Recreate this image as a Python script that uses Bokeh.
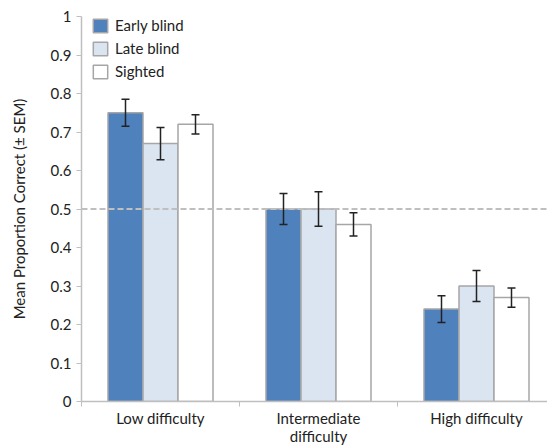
from bokeh.plotting import figure
from bokeh.models import (ColumnDataSource, FixedTicker, Whisker, TeeHead, Span,
                          Legend, LegendItem, Range1d)
from bokeh.embed import file_html
from bokeh.resources import INLINE

categories = ["Low difficulty", "Intermediate\ndifficulty", "High difficulty"]
groups = ["Early blind", "Late blind", "Sighted"]
early_blind = [0.75, 0.50, 0.24]
late_blind = [0.67, 0.50, 0.30]
sighted = [0.72, 0.46, 0.27]
early_sem = [0.035, 0.040, 0.035]
late_sem = [0.042, 0.045, 0.040]
sighted_sem = [0.025, 0.030, 0.025]
chance_level = 0.5

fills = ["#4f81bd", "#dbe5f1", "#ffffff"]
FONT = "Lato"

W, H = 547, 448
LEFT, TOP, BOTTOM = 81, 16, 45
FW = W - LEFT
FH = H - TOP - BOTTOM
CAT_PX = 158

p = figure(width=W, height=H, output_backend="svg",
           toolbar_location=None, min_border_left=LEFT, min_border_top=TOP,
           min_border_right=0, min_border_bottom=BOTTOM)
p.x_range = Range1d(0, FW / CAT_PX)
p.y_range = Range1d(0, 1)
p.xgrid.visible = False
p.ygrid.visible = False
p.outline_line_color = None
p.background_fill_color = "white"

bar_w = 35 / CAT_PX
offsets = [-bar_w, 0, bar_w]
series = [early_blind, late_blind, sighted]
sems = [early_sem, late_sem, sighted_sem]
centers = [i + 0.5 for i in range(len(categories))]

p.add_layout(Span(location=chance_level, dimension="width", line_color="#bfbfbf",
                  line_width=2, line_dash="6 3"))

items = []
for k in range(3):
    xs = [c + offsets[k] for c in centers]
    src = ColumnDataSource(dict(x=xs, top=series[k],
                                upper=[v + s for v, s in zip(series[k], sems[k])],
                                lower=[v - s for v, s in zip(series[k], sems[k])]))
    r = p.vbar(x="x", top="top", width=bar_w, bottom=0, source=src,
               fill_color=fills[k], line_color="#a6a6a6", line_width=1.5)
    items.append(LegendItem(label=groups[k], renderers=[r]))
    w = Whisker(base="x", upper="upper", lower="lower", source=src, level="overlay",
                line_color="#222222", line_width=1.5,
                upper_head=TeeHead(size=8, line_color="#222222", line_width=1.5),
                lower_head=TeeHead(size=8, line_color="#222222", line_width=1.5))
    p.add_layout(w)

legend = Legend(items=items, location=(10, FH - 66), orientation="vertical",
                glyph_width=18, glyph_height=17, spacing=5, padding=0, margin=0,
                label_text_font=FONT, label_text_font_size="15px",
                label_text_color="#222222", label_standoff=6,
                border_line_color=None, background_fill_alpha=0)
p.add_layout(legend)

# x axis
xa = p.xaxis[0]
xa.ticker = FixedTicker(ticks=centers, minor_ticks=[0, 1, 2, 3])
xa.major_label_overrides = {c: lab for c, lab in zip(centers, categories)}
xa.major_tick_out = 0
xa.major_tick_in = 0
xa.minor_tick_out = 5
xa.minor_tick_in = 0
xa.minor_tick_line_color = "#bfbfbf"
xa.axis_line_color = "#bfbfbf"
xa.axis_line_width = 1.5
xa.major_label_text_font = FONT
xa.major_label_text_font_size = "15px"
xa.major_label_text_line_height = 1.05
xa.major_label_text_color = "#222222"
xa.major_label_standoff = 2

# y axis
ya = p.yaxis[0]
ya.ticker = FixedTicker(ticks=[i / 10 for i in range(11)], minor_ticks=[])
ya.major_label_overrides = {0: "0", 1: "1"}
ya.axis_line_color = "#bfbfbf"
ya.axis_line_width = 1.5
ya.major_tick_line_color = "#bfbfbf"
ya.major_tick_out = 5
ya.major_tick_in = 0
ya.major_label_text_font = FONT
ya.major_label_text_font_size = "15px"
ya.major_label_text_color = "#222222"
ya.major_label_standoff = 5
ya.axis_label = "Mean Proportion Correct (\u00b1 SEM)"
ya.axis_label_text_font = FONT
ya.axis_label_text_font_size = "15px"
ya.axis_label_text_font_style = "normal"
ya.axis_label_text_color = "#222222"
ya.axis_label_standoff = 20

open("out.html", "w").write(file_html(p, INLINE))
